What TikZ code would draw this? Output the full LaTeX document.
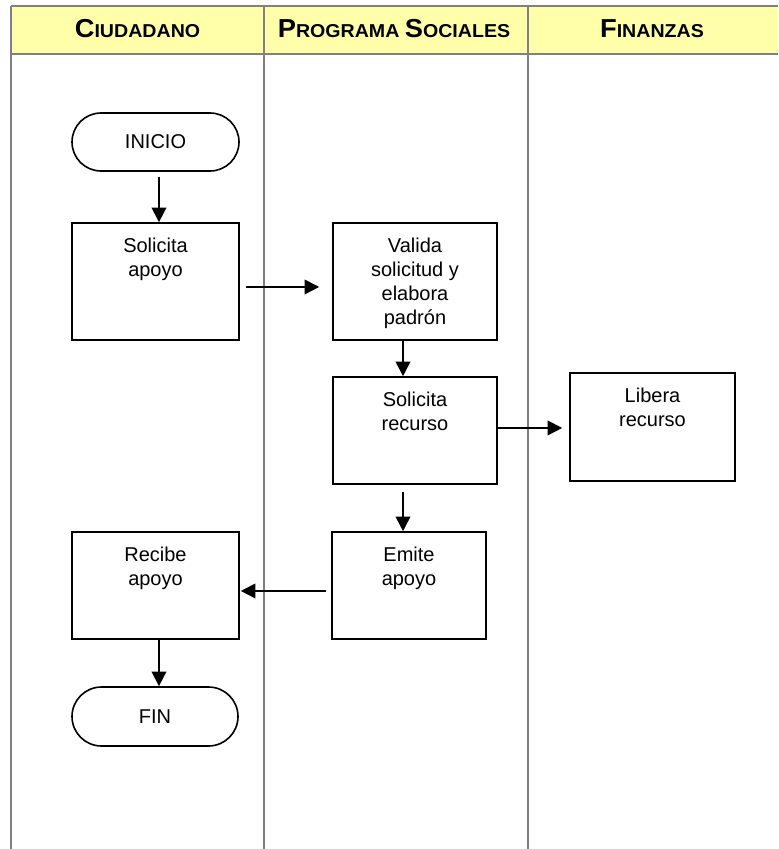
\documentclass[tikz,border=0pt]{standalone}
\usepackage{fontspec}
\setmainfont{Liberation Sans}
\usetikzlibrary{arrows.meta,shapes.misc,calc}
\definecolor{hdrfill}{HTML}{FFFFAA}
\definecolor{sepgray}{HTML}{808080}
\newcommand{\hsc}[2]{{\fontsize{19.5}{21}\selectfont\bfseries #1}{\fontsize{14}{16}\selectfont\bfseries #2}}
\def\pxu{0.75pt}
\begin{document}
\begin{tikzpicture}[x=0.75pt,y=-0.75pt,
  sepline/.style={draw=sepgray,line width=1.5pt},
  box/.style={draw,line width=1.2pt,inner sep=0pt},
  term/.style={draw,line width=1.2pt,rounded rectangle,inner sep=0pt,font=\fontsize{15}{18}\selectfont},
  txt/.style={inner sep=0pt,align=center,font=\fontsize{15}{18}\selectfont},
  hdr/.style={anchor=base,inner sep=0pt},
  arr/.style={-{Triangle[length=11pt,width=11pt]},line width=1.3pt}]
\useasboundingbox (0,0) rectangle (778,849);
% header band and lane lines
\fill[hdrfill] (11,6) rectangle (778,54);
\draw[sepline] (11,6) -- (778,6);
\draw[sepline] (11,54) -- (778,54);
\draw[sepline] (11,6) -- (11,849);
\draw[sepline] (264,6) -- (264,849);
\draw[sepline] (527.5,6) -- (527.5,849);
% header titles
\node[hdr] (h1) at (137.5,38) {\scalebox{1.05}[1]{\hsc{C}{IUDADANO}}};
\node[hdr] (h2) at (394,38) {\scalebox{1.05}[1]{\hsc{P}{ROGRAMA }\hsc{S}{OCIALES}}};
\node[hdr] (h3) at (652,38) {\scalebox{1.05}[1]{\hsc{F}{INANZAS}}};
% terminals
\node[term,minimum width=167*\pxu,minimum height=58*\pxu] (s1) at (155.5,142) {INICIO};
\node[term,minimum width=166*\pxu,minimum height=59*\pxu] (s2) at (155,716.5) {FIN};
% process boxes
\node[box,minimum width=167*\pxu,minimum height=117*\pxu] (b1) at (155.5,281.5) {};
\node[box,minimum width=164*\pxu,minimum height=117*\pxu] (b2) at (415,281.5) {};
\node[box,minimum width=164*\pxu,minimum height=107*\pxu] (b3) at (415,430.5) {};
\node[box,minimum width=165*\pxu,minimum height=108*\pxu] (b4) at (652.5,427) {};
\node[box,minimum width=154*\pxu,minimum height=107*\pxu] (b5) at (409,585.5) {};
\node[box,minimum width=167*\pxu,minimum height=107*\pxu] (b6) at (155.5,585.5) {};
% box texts
\node[txt,anchor=north] (b1t) at ([yshift=-12pt]b1.north) {Solicita\\apoyo};
\node[txt,anchor=north] (b2t) at ([yshift=-11.5pt]b2.north) {Valida\\solicitud y\\elabora\\padrón};
\node[txt,anchor=north] (b3t) at ([yshift=-12pt]b3.north) {Solicita\\recurso};
\node[txt,anchor=north] (b4t) at ([yshift=-12pt]b4.north) {Libera\\recurso};
\node[txt,anchor=north] (b5t) at ([yshift=-11.5pt]b5.north) {Emite\\apoyo};
\node[txt,anchor=north] (b6t) at ([yshift=-11.5pt]b6.north) {Recibe\\apoyo};
% connectors
\draw[arr,shorten <=3.75pt] ([xshift=2.6pt]s1.south) -- ([xshift=2.6pt]s1.south |- b1.north);
\draw[arr,shorten <=4.5pt,shorten >=9.75pt] ([yshift=-4.1pt]b1.east) -- ([yshift=-4.1pt]b1.east -| b2.west);
\draw[arr] ([xshift=-9pt]b2.south) -- ([xshift=-9pt]b2.south |- b3.north);
\draw[arr,shorten >=5.25pt] ([yshift=1.9pt]b3.east) -- ([yshift=1.9pt]b3.east -| b4.west);
\draw[arr,shorten <=5.25pt] ([xshift=-9pt]b3.south) -- ([xshift=-9pt]b3.south |- b5.north);
\draw[arr,shorten <=3.75pt,shorten >=0.75pt] ([yshift=-4.1pt]b5.west) -- ([yshift=-4.1pt]b5.west -| b6.east);
\draw[arr] ([xshift=2.6pt]b6.south) -- ([xshift=2.6pt]b6.south |- s2.north);
\end{tikzpicture}
\end{document}
